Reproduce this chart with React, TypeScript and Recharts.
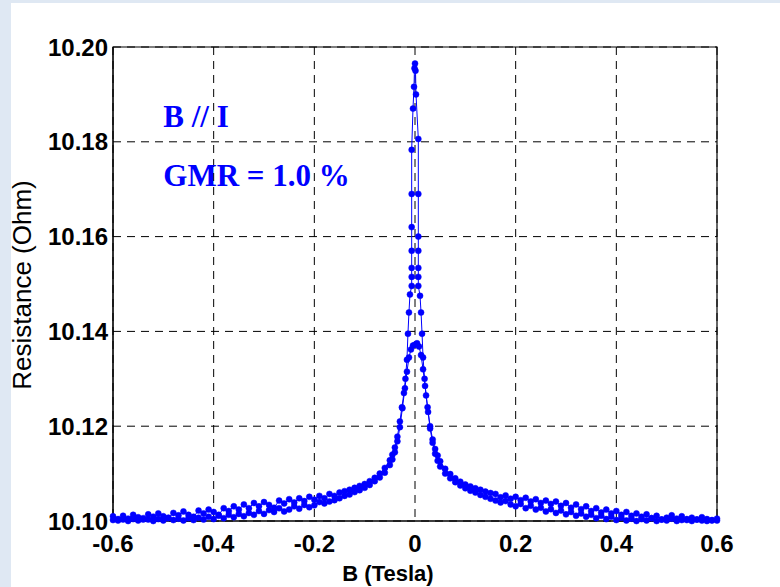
import { ComposedChart, Line, XAxis, YAxis, CartesianGrid, ReferenceArea, ReferenceDot } from 'recharts'

// sweep from -0.6 T up to +0.6 T
const upB = [
  -0.6, -0.59, -0.58, -0.57, -0.56, -0.55, -0.54, -0.53, -0.52, -0.51,
  -0.5, -0.49, -0.48, -0.47, -0.46, -0.45, -0.44, -0.43, -0.42, -0.41,
  -0.4, -0.39, -0.38, -0.37, -0.36, -0.35, -0.34, -0.33, -0.32, -0.31,
  -0.3, -0.29, -0.28, -0.27, -0.26, -0.25, -0.24, -0.23, -0.22, -0.21,
  -0.2, -0.19, -0.18, -0.17, -0.16, -0.15, -0.14, -0.13, -0.12, -0.11,
  -0.1, -0.09, -0.08, -0.07, -0.06, -0.05, -0.045, -0.04, -0.035, -0.03,
  -0.026, -0.022, -0.019, -0.016, -0.014, -0.012, -0.01,
  -0.0066, -0.0066, -0.0066, -0.0066, -0.0066, -0.0066, -0.0066,
  -0.004, -0.002, -0.001, 0, 0.001, 0.002,
  0.0066, 0.0066, 0.0066, 0.0066, 0.0066, 0.0066, 0.0066,
  0.01, 0.012, 0.014, 0.016, 0.019, 0.022, 0.026,
  0.03, 0.035, 0.04, 0.045, 0.05, 0.06, 0.07, 0.08, 0.09, 0.1,
  0.11, 0.12, 0.13, 0.14, 0.15, 0.16, 0.17, 0.18, 0.19, 0.2,
  0.21, 0.22, 0.23, 0.24, 0.25, 0.26, 0.27, 0.28, 0.29, 0.3,
  0.31, 0.32, 0.33, 0.34, 0.35, 0.36, 0.37, 0.38, 0.39, 0.4,
  0.41, 0.42, 0.43, 0.44, 0.45, 0.46, 0.47, 0.48, 0.49, 0.5,
  0.51, 0.52, 0.53, 0.54, 0.55, 0.56, 0.57, 0.58, 0.59, 0.6,
]
const upR = [
  10.101, 10.1004, 10.1011, 10.1005, 10.1013, 10.1008, 10.1003, 10.1014, 10.1009, 10.1016,
  10.101, 10.1006, 10.1017, 10.1012, 10.102, 10.1013, 10.1009, 10.1022, 10.1016, 10.1024,
  10.1019, 10.1013, 10.1027, 10.1021, 10.1031, 10.1024, 10.1035, 10.1027, 10.1038, 10.1031,
  10.104, 10.1034, 10.1028, 10.1043, 10.1037, 10.1046, 10.1039, 10.1048, 10.1042, 10.1051,
  10.1045, 10.1053, 10.1048, 10.1057, 10.1053, 10.106, 10.1063, 10.1066, 10.107, 10.1074,
  10.1078, 10.1084, 10.1091, 10.11, 10.1112, 10.1128, 10.114, 10.1155, 10.1178, 10.121,
  10.124, 10.127, 10.13, 10.134, 10.1395, 10.144, 10.1478,
  10.1496, 10.1515, 10.1534, 10.157, 10.162, 10.169, 10.1783,
  10.187, 10.1916, 10.1955, 10.1965, 10.195, 10.19,
  10.1806, 10.169, 10.16, 10.157, 10.1534, 10.1515, 10.1496,
  10.1475, 10.144, 10.1395, 10.1345, 10.13, 10.1265, 10.123,
  10.1195, 10.1165, 10.1142, 10.1127, 10.1115, 10.11, 10.109, 10.1082, 10.1075, 10.1069,
  10.1064, 10.106, 10.1055, 10.1051, 10.1047, 10.1043, 10.1039, 10.1042, 10.1035, 10.1031,
  10.1036, 10.1027, 10.1032, 10.1024, 10.1028, 10.102, 10.1025, 10.1017, 10.1022, 10.1014,
  10.1019, 10.1011, 10.1016, 10.1009, 10.1013, 10.1006, 10.1011, 10.1004, 10.1009, 10.1002,
  10.1007, 10.1001, 10.1005, 10.1, 10.1004, 10.1001, 10.1006, 10.1, 10.1003, 10.1001,
  10.1005, 10.1, 10.1002, 10.1004, 10.1, 10.1003, 10.1001, 10.1, 10.1002, 10.1001,
]

// sweep back from +0.6 T down to -0.6 T
const downB = [
  0.6, 0.59, 0.58, 0.57, 0.56, 0.55, 0.54, 0.53, 0.52, 0.51,
  0.5, 0.49, 0.48, 0.47, 0.46, 0.45, 0.44, 0.43, 0.42, 0.41,
  0.4, 0.39, 0.38, 0.37, 0.36, 0.35, 0.34, 0.33, 0.32, 0.31,
  0.3, 0.29, 0.28, 0.27, 0.26, 0.25, 0.24, 0.23, 0.22, 0.21,
  0.2, 0.19, 0.18, 0.17, 0.16, 0.15, 0.14, 0.13, 0.12, 0.11,
  0.1, 0.09, 0.08, 0.07, 0.06, 0.05, 0.045, 0.04, 0.035, 0.03,
  0.025, 0.02, 0.016, 0.012, 0.008, 0.004, 0, -0.004, -0.008, -0.012,
  -0.016, -0.02, -0.025, -0.03, -0.035, -0.04, -0.045, -0.05, -0.06, -0.07,
  -0.08, -0.09, -0.1, -0.11, -0.12, -0.13, -0.14, -0.15, -0.16, -0.17,
  -0.18, -0.19, -0.2, -0.21, -0.22, -0.23, -0.24, -0.25, -0.26, -0.27,
  -0.28, -0.29, -0.3, -0.31, -0.32, -0.33, -0.34, -0.35, -0.36, -0.37,
  -0.38, -0.39, -0.4, -0.41, -0.42, -0.43, -0.44, -0.45, -0.46, -0.47,
  -0.48, -0.49, -0.5, -0.51, -0.52, -0.53, -0.54, -0.55, -0.56, -0.57,
  -0.58, -0.59, -0.6,
]
const downR = [
  10.1005, 10.1001, 10.1004, 10.1008, 10.1003, 10.1007, 10.1002, 10.101, 10.1005, 10.1012,
  10.1007, 10.1003, 10.1011, 10.1006, 10.1014, 10.1009, 10.1016, 10.1011, 10.1019, 10.1013,
  10.1021, 10.1016, 10.1024, 10.1018, 10.1027, 10.1021, 10.1031, 10.1025, 10.1035, 10.1028,
  10.1038, 10.1032, 10.1041, 10.1036, 10.1043, 10.1038, 10.1046, 10.1041, 10.1049, 10.1044,
  10.1051, 10.1047, 10.1054, 10.105, 10.1057, 10.1059, 10.1062, 10.1066, 10.1069, 10.1073,
  10.1077, 10.1083, 10.109, 10.1099, 10.111, 10.1126, 10.1138, 10.1152, 10.1172, 10.12,
  10.124, 10.1285, 10.132, 10.135, 10.1368, 10.1375, 10.1372, 10.137, 10.1362, 10.1345,
  10.1315, 10.128, 10.1238, 10.1198, 10.1168, 10.1145, 10.113, 10.1118, 10.1102, 10.1092,
  10.1084, 10.1076, 10.107, 10.1065, 10.1061, 10.1056, 10.1053, 10.1048, 10.1044, 10.1041,
  10.1037, 10.104, 10.1033, 10.1029, 10.1034, 10.1026, 10.1031, 10.1024, 10.102, 10.1027,
  10.1019, 10.1023, 10.1015, 10.1021, 10.1013, 10.1017, 10.101, 10.1015, 10.1008, 10.1013,
  10.1006, 10.1011, 10.1004, 10.1009, 10.1003, 10.1007, 10.1002, 10.1006, 10.1001, 10.1005,
  10.1002, 10.1007, 10.1001, 10.1004, 10.1, 10.1003, 10.1006, 10.1001, 10.1004, 10.1,
  10.1003, 10.1001, 10.1002,
]

const xTicks = [-0.6, -0.4, -0.2, 0, 0.2, 0.4, 0.6]
const yTicks = [10.1, 10.12, 10.14, 10.16, 10.18, 10.2]

const BLUE = '#0000ff'
const tickStyle = { fontFamily: 'Arial, "Liberation Sans", sans-serif', fontWeight: 700, fontSize: 24, fill: '#000' }
const noteStyle = { fontFamily: '"Times New Roman", "Liberation Serif", serif', fontWeight: 700, fontSize: 31, fill: BLUE }

const upData = upB.map((b, i) => ({ b, r: upR[i] }))
const downData = downB.map((b, i) => ({ b, r: downR[i] }))

const note = (text: string) => (props: any) => {
  const vb = props.viewBox || {}
  return (
    <text x={vb.x} y={vb.y} style={noteStyle}>
      {text}
    </text>
  )
}

export default function App() {
  return (
    <div style={{ position: 'absolute', left: 0, top: 0, width: 780, height: 587, background: '#dfe8f3', overflow: 'hidden' }}>
      <div style={{ position: 'absolute', left: 11, top: 3, width: 769, height: 584, background: '#fff' }} />
      <div style={{ position: 'absolute', left: 0, top: 0 }}>
        <ComposedChart width={780} height={587} margin={{ top: 47, right: 63, bottom: 36, left: 13 }}>
          <CartesianGrid stroke="#000" strokeDasharray="8 6" />
          <XAxis
            type="number"
            dataKey="b"
            domain={[-0.6, 0.6]}
            ticks={xTicks}
            tickFormatter={(v: number) => (v === 0 ? '0' : v.toFixed(1))}
            tick={tickStyle}
            tickLine={false}
            tickSize={0}
            tickMargin={14}
            height={30}
            axisLine={{ stroke: '#000' }}
            label={{
              content: () => (
                <text x={388} y={581} textAnchor="middle" style={{ ...tickStyle, fontSize: 22 }}>
                  B (Tesla)
                </text>
              ),
            }}
          />
          <YAxis
            type="number"
            domain={[10.1, 10.2]}
            ticks={yTicks}
            tickFormatter={(v: number) => v.toFixed(2)}
            tick={tickStyle}
            tickLine={false}
            tickSize={0}
            tickMargin={5}
            width={100}
            axisLine={{ stroke: '#000' }}
            label={{
              content: () => (
                <text
                  x={31}
                  y={285}
                  textAnchor="middle"
                  transform="rotate(-90 31 285)"
                  style={{ fontFamily: 'Arial, "Liberation Sans", sans-serif', fontSize: 26, fill: '#000' }}
                >
                  Resistance (Ohm)
                </text>
              ),
            }}
          />
          <ReferenceArea x1={-0.6} x2={0.6} y1={10.1} y2={10.2} fill="none" stroke="#000" strokeWidth={1.2} ifOverflow="visible" />
          <Line
            data={upData}
            dataKey="r"
            stroke={BLUE}
            strokeWidth={1}
            dot={{ r: 3, fill: BLUE, stroke: BLUE, strokeWidth: 0.5 }}
            isAnimationActive={false}
          />
          <Line
            data={downData}
            dataKey="r"
            stroke={BLUE}
            strokeWidth={1}
            dot={{ r: 3, fill: BLUE, stroke: BLUE, strokeWidth: 0.5 }}
            isAnimationActive={false}
          />
          <ReferenceDot x={-0.5} y={10.1831} r={0} label={{ content: note('B // I') }} />
          <ReferenceDot x={-0.5} y={10.1707} r={0} label={{ content: note('GMR = 1.0 %') }} />
        </ComposedChart>
      </div>
    </div>
  )
}
